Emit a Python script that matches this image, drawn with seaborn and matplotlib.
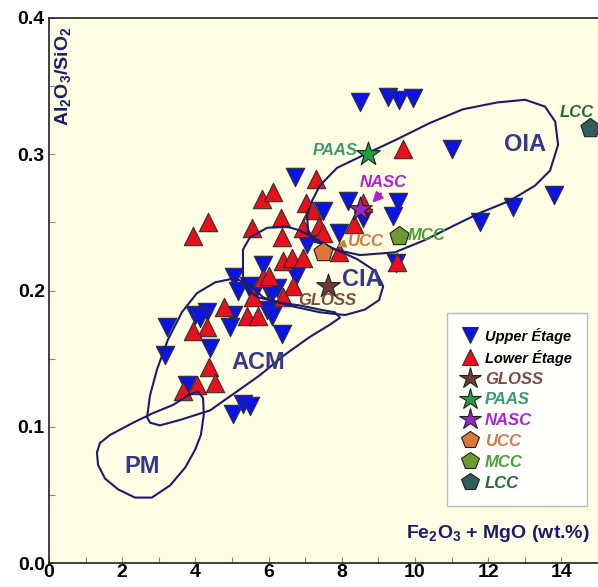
import numpy as np
import pandas as pd
import seaborn as sns
import matplotlib.pyplot as plt
from matplotlib.lines import Line2D

# Upper Etage samples (Fe2O3+MgO wt.%, Al2O3/SiO2)
upper_x = [8.50, 9.26, 9.56, 9.95, 11.01, 6.72, 8.17, 9.54, 7.49, 9.40, 8.58, 11.78,
           12.68, 13.80, 7.92, 7.05, 9.48, 5.85, 6.75, 5.05, 5.16, 5.46, 5.98, 6.23,
           6.09, 5.57, 5.96, 6.09, 5.03, 4.32, 3.99, 4.13, 4.95, 3.22, 3.17, 4.40,
           3.77, 5.03, 5.30, 5.49, 6.37]
upper_y = [0.338, 0.342, 0.340, 0.341, 0.304, 0.283, 0.266, 0.265, 0.258, 0.255, 0.253, 0.250,
           0.261, 0.270, 0.242, 0.234, 0.220, 0.219, 0.211, 0.210, 0.200, 0.203, 0.201, 0.202,
           0.198, 0.197, 0.186, 0.181, 0.182, 0.184, 0.182, 0.180, 0.173, 0.173, 0.153, 0.158,
           0.131, 0.109, 0.117, 0.115, 0.168]

# Lower Etage samples
lower_x = [9.67, 7.30, 5.82, 6.12, 8.58, 7.02, 7.19, 8.33, 6.94, 7.38, 7.49, 7.92,
           9.51, 4.34, 3.93, 5.55, 6.34, 6.37, 6.39, 6.64, 6.94, 5.85, 6.01, 6.67,
           6.39, 5.57, 4.78, 5.41, 5.71, 4.32, 3.93, 4.37, 3.66, 4.04, 4.54]
lower_y = [0.304, 0.282, 0.267, 0.272, 0.264, 0.264, 0.259, 0.249, 0.246, 0.247, 0.242, 0.228,
           0.221, 0.250, 0.240, 0.246, 0.253, 0.239, 0.222, 0.224, 0.224, 0.209, 0.211, 0.203,
           0.195, 0.195, 0.188, 0.181, 0.181, 0.173, 0.170, 0.144, 0.126, 0.131, 0.132]

# reference compositions
ref_names = ['GLOSS', 'PAAS', 'NASC', 'UCC', 'MCC', 'LCC']
ref_x = [7.62, 8.72, 8.50, 7.49, 9.56, 14.78]
ref_y = [0.203, 0.300, 0.260, 0.228, 0.240, 0.319]
ref_markers = ['*', '*', '*', 'p', 'p', 'p']
ref_fill = ['#6b3d3a', '#1fa040', '#9c24c4', '#d9773a', '#6e9a35', '#2e5e60']
ref_text = ['#7a4b45', '#3a9a72', '#b020d0', '#d27a45', '#4a9e3a', '#1f6b3a']

# provenance field outlines
oia_x = [7.08, 7.05, 7.19, 7.40, 7.87, 8.72, 9.51, 10.41, 11.31, 12.24, 13.01, 13.55,
         13.83, 13.91, 13.69, 13.28, 12.60, 11.78, 11.09, 10.27, 9.45, 8.50, 7.81, 7.27]
oia_y = [0.243, 0.255, 0.266, 0.277, 0.290, 0.301, 0.311, 0.323, 0.333, 0.338, 0.340, 0.335,
         0.324, 0.307, 0.288, 0.277, 0.266, 0.257, 0.248, 0.237, 0.228, 0.226, 0.230, 0.236]
cia_x = [5.30, 5.30, 5.49, 5.96, 6.50, 6.86, 7.21, 7.76, 8.42, 8.93, 9.13, 9.02,
         8.63, 8.09, 7.40, 6.72, 6.17, 5.71, 5.44]
cia_y = [0.210, 0.230, 0.239, 0.246, 0.247, 0.244, 0.239, 0.231, 0.223, 0.214, 0.203, 0.193,
         0.186, 0.182, 0.184, 0.188, 0.192, 0.195, 0.200]
acm_x = [2.68, 2.76, 3.03, 3.58, 4.40, 5.14, 5.77, 6.45, 7.13, 7.68, 7.95, 7.81,
         7.40, 6.86, 6.31, 5.85, 5.49, 5.08, 4.54, 4.04, 3.63, 3.25, 2.95, 2.76]
acm_y = [0.107, 0.103, 0.101, 0.105, 0.112, 0.126, 0.138, 0.153, 0.166, 0.175, 0.180, 0.184,
         0.186, 0.189, 0.191, 0.195, 0.204, 0.209, 0.206, 0.198, 0.184, 0.164, 0.142, 0.123]
pm_x = [1.31, 1.39, 1.67, 2.30, 2.84, 3.39, 3.80, 4.07, 4.21, 4.23, 4.15, 3.99,
        3.72, 3.31, 2.81, 2.35, 1.89, 1.53, 1.34]
pm_y = [0.081, 0.088, 0.094, 0.103, 0.110, 0.116, 0.123, 0.126, 0.121, 0.109, 0.094, 0.083,
        0.070, 0.057, 0.048, 0.048, 0.054, 0.062, 0.072]

field_names = ['OIA', 'CIA', 'ACM', 'PM']
field_lx = [13.0, 8.55, 5.71, 2.54]
field_ly = [0.307, 0.208, 0.147, 0.0705]

navy = '#1c1c6a'
blue = '#0a14e6'
red = '#e8101a'

sns.set_theme(style='ticks')
plt.rcParams['font.family'] = ['Liberation Sans', 'DejaVu Sans']
plt.rcParams['font.weight'] = 'bold'
plt.rcParams['mathtext.fontset'] = 'custom'
plt.rcParams['mathtext.rm'] = 'Liberation Sans:bold'
plt.rcParams['mathtext.default'] = 'rm'

fig = plt.figure(figsize=(5.98, 5.87), dpi=100)
ax = fig.add_axes([49 / 598, 24 / 587, 549 / 598, 545 / 587])
ax.set_facecolor('#fffde4')

df_up = pd.DataFrame({'x': upper_x, 'y': upper_y})
df_lo = pd.DataFrame({'x': lower_x, 'y': lower_y})
sns.scatterplot(data=df_up, x='x', y='y', marker='v', s=175, color=blue,
                edgecolor='#303030', linewidth=0.8, ax=ax, zorder=3, legend=False)
sns.scatterplot(data=df_lo, x='x', y='y', marker='^', s=175, color=red,
                edgecolor='#303030', linewidth=0.8, ax=ax, zorder=3, legend=False)

# fields
for fx, fy in [(oia_x, oia_y), (cia_x, cia_y), (acm_x, acm_y), (pm_x, pm_y)]:
    ax.plot(fx + fx[:1], fy + fy[:1], color=navy, lw=1.5, zorder=4,
            solid_joinstyle='round')
for name, lx, ly in zip(field_names, field_lx, field_ly):
    ax.text(lx, ly, name, color='#38388a', fontsize=17, fontweight='bold',
            ha='center', va='center', zorder=5)

# reference points
for i in range(len(ref_names)):
    size = 320 if ref_markers[i] == '*' else 210
    ax.scatter(ref_x[i], ref_y[i], marker=ref_markers[i], s=size, color=ref_fill[i],
               edgecolor='#202020', linewidth=0.8, zorder=6)

lab_pos = {'GLOSS': (7.60, 0.193), 'PAAS': (7.81, 0.303), 'NASC': (9.13, 0.279),
           'UCC': (8.63, 0.2356), 'MCC': (10.33, 0.2407), 'LCC': (14.43, 0.331)}
for i, name in enumerate(ref_names):
    px, py = lab_pos[name]
    ax.text(px, py, name, color=ref_text[i], fontsize=12, fontstyle='italic',
            fontweight='bold', ha='center', va='center', zorder=7)
ax.annotate('', xy=(8.78, 0.263), xytext=(9.12, 0.2725),
            arrowprops=dict(arrowstyle='-|>', color='#b020d0', lw=1.8, mutation_scale=14),
            zorder=7)
ax.annotate('', xy=(7.80, 0.2315), xytext=(8.10, 0.2345),
            arrowprops=dict(arrowstyle='-|>', color='#b8844a', lw=1.2, mutation_scale=12),
            zorder=7)

ax.set_xlim(0, 15)
ax.set_ylim(0, 0.4)
ax.set_xticks(np.arange(0, 15, 2))
ax.set_xticks(np.arange(1, 15, 2), minor=True)
ax.set_yticks([0.0, 0.1, 0.2, 0.3, 0.4])
ax.set_yticks([0.05, 0.15, 0.25, 0.35], minor=True)
ax.set_yticklabels(['0.0', '0.1', '0.2', '0.3', '0.4'])
ax.tick_params(which='both', direction='in', length=4, width=0.8, color='#888888',
               labelsize=14, labelcolor='black')
ax.tick_params(axis='x', pad=1)
ax.tick_params(axis='y', pad=3)
ax.set_xlabel('')
ax.set_ylabel('')
ax.spines['right'].set_visible(False)
for sp in ['left', 'bottom', 'top']:
    ax.spines[sp].set_color('#202020')
    ax.spines[sp].set_linewidth(1.2)

ax.text(0.985, 0.035, r'Fe$_2$O$_3$ + MgO (wt.%)', transform=ax.transAxes,
        ha='right', va='bottom', color=navy, fontsize=14, fontweight='bold')
ax.text(0.025, 0.985, r'Al$_2$O$_3$/SiO$_2$', transform=ax.transAxes, rotation=90,
        ha='center', va='top', color=navy, fontsize=14, fontweight='bold')

handles = [Line2D([], [], ls='', marker='v', ms=12, mfc=blue, mec='#303030', mew=0.8),
           Line2D([], [], ls='', marker='^', ms=12, mfc=red, mec='#303030', mew=0.8)]
for i in range(len(ref_names)):
    ms = 16 if ref_markers[i] == '*' else 13
    handles.append(Line2D([], [], ls='', marker=ref_markers[i], ms=ms, mfc=ref_fill[i],
                          mec='#202020', mew=0.8))
labels = ['Upper Étage', 'Lower Étage'] + ref_names
leg = ax.legend(handles, labels, loc='upper right', bbox_to_anchor=(0.98, 0.459),
                frameon=True, fancybox=False, edgecolor='#bbbbbb', facecolor='#fffffb',
                framealpha=1, prop={'style': 'italic', 'weight': 'bold', 'size': 12},
                handlelength=1.0, handletextpad=0.4, labelspacing=0.35, borderpad=0.9,
                borderaxespad=0)
leg.set_zorder(10)
for i, t in enumerate(leg.get_texts()):
    if i < 2:
        t.set_fontsize(10.5)
        t.set_color('black')
    else:
        t.set_color(ref_text[i - 2])

plt.savefig('out.png', dpi=100)
